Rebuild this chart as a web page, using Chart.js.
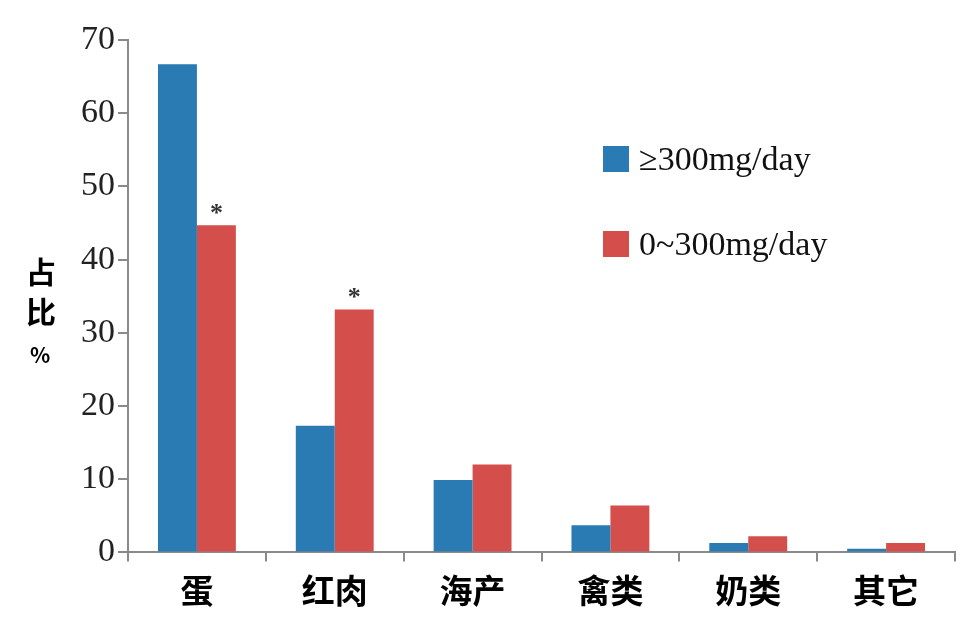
<!DOCTYPE html>
<html>
<head>
<meta charset="utf-8">
<script src="https://cdn.jsdelivr.net/npm/chart.js@4"></script>
<style>
html,body{margin:0;padding:0;background:#fff;}
#wrap{position:relative;width:975px;height:637px;}
</style>
</head>
<body>
<div id="wrap"><canvas id="c" width="975" height="637"></canvas></div>
<script>
const categories = ['蛋', '红肉', '海产', '禽类', '奶类', '其它'];
const seriesHigh = [66.7, 17.3, 9.9, 3.7, 1.3, 0.5];
const seriesLow = [44.7, 33.2, 12.0, 6.4, 2.2, 1.3];
const seriesNames = ['≥300mg/day', '0~300mg/day'];
const significant = [true, true, false, false, false, false];
const yTitle = ['占', '比', '%'];

const extras = {
  id: 'extras',
  afterDatasetsDraw(chart) {
    const ctx = chart.ctx;
    ctx.save();
    // asterisks above red bars
    const meta = chart.getDatasetMeta(1);
    ctx.fillStyle = '#333';
    ctx.font = 'bold 26px "Liberation Serif"';
    ctx.textAlign = 'center';
    ctx.textBaseline = 'alphabetic';
    significant.forEach((s, i) => {
      if (!s) return;
      const el = meta.data[i];
      ctx.fillText('*', el.x, el.y - 4);
    });
    // y title stacked
    ctx.fillStyle = '#000';
    ctx.textAlign = 'center';
    ctx.textBaseline = 'middle';
    ctx.font = 'bold 30px "Noto Sans CJK SC"';
    ctx.fillText(yTitle[0], 41, 272);
    ctx.fillText(yTitle[1], 41, 312);
    ctx.font = 'bold 21px "Noto Sans CJK SC"';
    ctx.fillText(yTitle[2], 40, 355);
    // legend
    const lx = 603, ly = [146, 231];
    ctx.textAlign = 'left';
    ctx.font = '34px "Liberation Serif"';
    chart.data.datasets.forEach((ds, i) => {
      ctx.fillStyle = ds.backgroundColor;
      ctx.fillRect(lx, ly[i], 26, 26);
      ctx.fillStyle = '#111';
      ctx.fillText(ds.label, lx + 36, ly[i] + 15);
    });
    ctx.restore();
  }
};

new Chart(document.getElementById('c'), {
  type: 'bar',
  data: {
    labels: categories,
    datasets: [
      { label: seriesNames[0], data: seriesHigh, backgroundColor: '#2a7ab4', borderWidth: 0 },
      { label: seriesNames[1], data: seriesLow, backgroundColor: '#d44f4c', borderWidth: 0 }
    ]
  },
  options: {
    responsive: false,
    animation: false,
    devicePixelRatio: 1,
    categoryPercentage: 0.565,
    barPercentage: 1.0,
    layout: { padding: { left: 78, top: 40, right: 20, bottom: 18 } },
    plugins: { legend: { display: false }, tooltip: { enabled: false } },
    scales: {
      x: {
        grid: { drawOnChartArea: false, tickLength: 9, color: '#8a8a8a', lineWidth: 2, offset: true },
        border: { color: '#8a8a8a', width: 2 },
        ticks: { font: { family: 'Noto Sans CJK SC', size: 33, weight: 'bold' }, color: '#000', padding: 9, maxRotation: 0 }
      },
      y: {
        min: 0, max: 70,
        grid: { drawOnChartArea: false, tickLength: 10, color: '#8a8a8a', lineWidth: 2 },
        border: { color: '#8a8a8a', width: 2 },
        ticks: { stepSize: 10, font: { family: 'Liberation Serif', size: 34 }, color: '#222', padding: 3 }
      }
    }
  },
  plugins: [extras]
});
</script>
</body>
</html>
